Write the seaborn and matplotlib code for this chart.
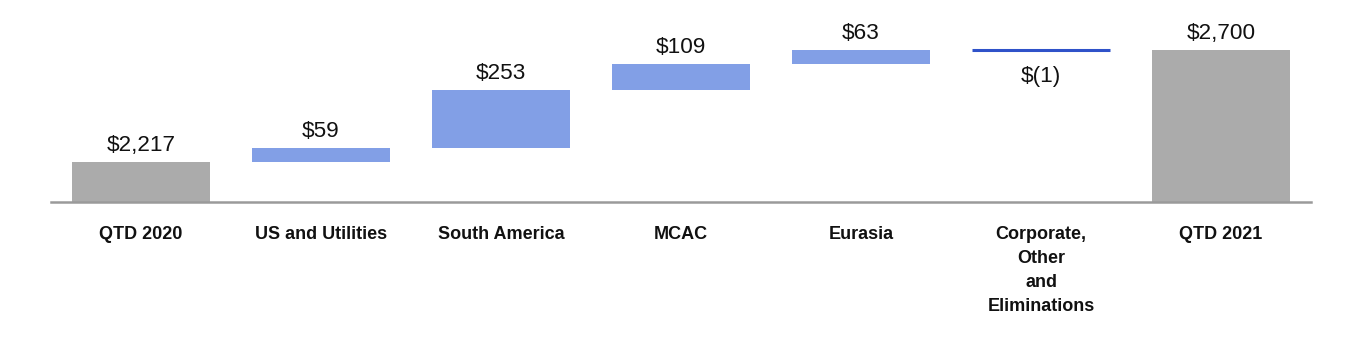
import matplotlib
matplotlib.use("Agg")
import matplotlib.pyplot as plt
import numpy as np
import pandas as pd
import seaborn as sns

# Quarter-to-date bridge, values in $ millions
categories = ["QTD 2020", "US and Utilities", "South America", "MCAC",
              "Eurasia", "Corporate,\nOther\nand\nEliminations", "QTD 2021"]
values = [2217, 59, 253, 109, 63, -1, 2700]
labels = ["$2,217", "$59", "$253", "$109", "$63", "$(1)", "$2,700"]
kinds = ["total", "delta", "delta", "delta", "delta", "delta", "total"]

# Waterfall geometry: totals rise from zero, deltas float on the running sum
bottoms, heights, tops = [], [], []
running = 0
for v, k in zip(values, kinds):
    if k == "total":
        bottoms.append(0)
        heights.append(v)
        running = v
    else:
        bottoms.append(min(running, running + v))
        heights.append(abs(v))
        running += v
    tops.append(bottoms[-1] + heights[-1])

df = pd.DataFrame({"category": categories, "height": heights})

GRAY = "#ababab"
BLUE = "#829fe6"
DARK_BLUE = "#2f52c9"

sns.set_theme(style="white")
plt.rcParams["font.family"] = ["Liberation Sans", "DejaVu Sans"]

fig = plt.figure(figsize=(13.6, 3.5), dpi=100)
ax = fig.add_axes([51 / 1360, 148 / 350, 1260 / 1360, 202 / 350])

sns.barplot(data=df, x="category", y="height", bottom=bottoms,
            width=0.77, color=GRAY, ax=ax, linewidth=0)

for patch, v, k in zip(ax.patches, values, kinds):
    if k == "total":
        patch.set_facecolor(GRAY)
    elif v >= 0:
        patch.set_facecolor(BLUE)
    else:
        patch.set_facecolor(DARK_BLUE)
        patch.set_edgecolor(DARK_BLUE)
        patch.set_linewidth(2.2)

# Value labels: above the bar for increases/totals, below for decreases
for i, (v, lab, b, t) in enumerate(zip(values, labels, bottoms, tops)):
    if v >= 0:
        ax.annotate(lab, xy=(i, t), xytext=(0, 8), textcoords="offset points",
                    ha="center", va="baseline", fontsize=16.2, color="#111111")
    else:
        ax.annotate(lab, xy=(i, b), xytext=(0, -23), textcoords="offset points",
                    ha="center", va="baseline", fontsize=16.2, color="#111111")

ax.set_xlim(-0.5, 6.5)
ax.set_ylim(2044.5, 2915.6)
ax.set_xlabel("")
ax.set_ylabel("")
ax.set_yticks([])
ax.tick_params(axis="x", length=0, pad=17)
for lbl in ax.get_xticklabels():
    lbl.set_fontweight("bold")
    lbl.set_fontsize(13)
    lbl.set_linespacing(1.55)
    lbl.set_color("#111111")
    lbl.set_verticalalignment("top")

for side in ["top", "left", "right"]:
    ax.spines[side].set_visible(False)
ax.spines["bottom"].set_color("#9a9a9a")
ax.spines["bottom"].set_linewidth(1.8)
ax.set_facecolor("white")
fig.patch.set_facecolor("white")

fig.savefig("out.png", dpi=100, facecolor="white")
